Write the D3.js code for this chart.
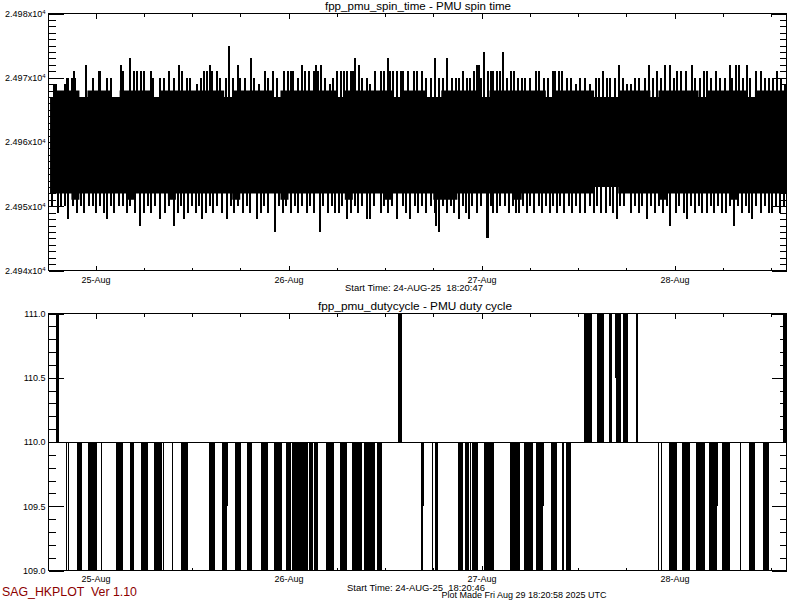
<!DOCTYPE html>
<html>
<head>
<meta charset="utf-8">
<script src="https://cdn.jsdelivr.net/npm/d3@7"></script>
<style>
body { margin: 0; background: #fff; }
text { font-family: "Liberation Sans", Arial, sans-serif; fill: #000; white-space: pre; }
</style>
</head>
<body>
<div id="chart"></div>
<script>
// all times are hours counted from 24-Aug-2025 00:00 UTC
var timeDomain = [18.155, 109.927];
var dataStart = 18.346;
var dayTicks = [24, 48, 72, 96];
var dayLabels = ["25-Aug", "26-Aug", "27-Aug", "28-Aug"];
var sixHourTicks = [24, 30, 36, 42, 48, 54, 60, 66, 72, 78, 84, 90, 96, 102, 108];

// PMU spin time: hourly band edges (first hour = 18)
var spinFirstHour = 18;
var spinHi = [24967,24968,24968,24968,24967,24968,24968,24968,24967,24968,
              24968,24968,24968,24967,24968,24968,24968,24968,24968,24968,
              24968,24968,24967,24968,24968,24968,24968,24968,24967,24968,
              24968,24968,24968,24968,24968,24968,24967,24968,24968,24968,
              24968,24968,24968,24967,24968,24968,24968,24967,24967,24968,
              24968,24968,24968,24968,24967,24968,24968,24968,24968,24968,
              24968,24968,24967,24968,24968,24968,24968,24968,24967,24967,
              24967,24968,24968,24968,24968,24967,24968,24968,24968,24968,
              24968,24967,24968,24968,24968,24968,24968,24967,24968,24968,
              24968,24968];
var spinLo = [24952,24952,24952,24951,24952,24952,24952,24952,24952,24952,
              24951,24952,24952,24952,24952,24951,24952,24952,24952,24952,
              24952,24952,24952,24951,24952,24952,24952,24952,24952,24951,
              24952,24952,24952,24952,24952,24952,24952,24951,24952,24952,
              24952,24952,24951,24952,24952,24952,24952,24952,24951,24951,
              24951,24952,24952,24952,24952,24952,24952,24952,24951,24952,
              24952,24952,24952,24952,24952,24952,24952,24952,24953,24953,
              24953,24952,24952,24952,24952,24952,24951,24952,24952,24952,
              24952,24952,24952,24952,24952,24951,24952,24952,24952,24952,
              24952,24952];

// spikes above the band: time, value
var spikeUpT = [18.82,19.03,20.15,20.48,20.64,21.10,21.30,21.51,22.76,23.63,24.46,24.62,25.46,25.87,27.11,27.40,
  28.35,28.76,29.22,29.60,29.97,30.84,31.18,32.08,32.46,33.08,33.70,34.36,34.78,35.32,35.81,36.56,37.06,37.43,
  37.89,38.21,38.51,39.13,39.54,40.17,40.66,41.16,41.70,42.03,42.65,43.36,43.77,44.27,45.05,45.51,46.10,46.51,
  47.38,47.88,48.25,48.62,49.12,49.70,50.11,50.61,51.11,51.36,51.73,51.98,52.60,53.22,53.59,54.09,54.59,54.84,
  55.33,55.71,56.08,56.33,56.74,57.20,57.70,58.19,58.81,59.44,59.93,60.39,60.68,61.05,61.55,61.93,62.30,62.80,
  63.55,64.04,64.54,65.16,65.66,66.16,66.66,67.15,67.74,68.27,68.77,69.14,69.64,70.14,70.63,71.01,71.38,71.67,
  71.88,72.29,72.75,73.12,73.49,73.87,74.24,74.65,75.11,75.61,75.98,76.48,76.98,77.47,78.09,78.72,79.09,79.71,
  80.33,80.83,81.20,81.58,82.07,82.57,83.07,83.69,84.31,84.93,85.55,86.18,86.55,87.09,87.55,88.04,88.54,89.08,
  89.54,90.04,90.53,91.03,91.53,92.27,92.77,93.27,93.85,94.26,94.88,95.38,95.88,96.34,96.75,97.37,98.21,98.61,
  99.23,99.61,100.10,100.60,101.10,101.60,102.22,102.84,103.21,103.59,103.96,104.46,105.04,105.45,106.08,106.70,
  107.20,107.69,108.19,108.78,109.19,109.68];
var spikeUpV = [24969,24969,24969,24970,24970,24970,24971,24970,24972,24970,24971,24971,24970,24970,24972,24971,
  24973,24971,24971,24971,24971,24971,24970,24970,24970,24971,24970,24972,24971,24970,24970,24969,24970,24971,
  24971,24972,24971,24971,24970,24970,24975,24970,24972,24970,24970,24973,24970,24969,24971,24970,24971,24970,
  24971,24971,24971,24971,24970,24972,24971,24971,24971,24972,24971,24972,24970,24969,24970,24971,24971,24971,
  24971,24971,24971,24973,24972,24970,24970,24969,24971,24971,24971,24973,24971,24971,24971,24971,24971,24971,
  24971,24971,24971,24970,24970,24973,24970,24970,24973,24970,24970,24970,24971,24970,24970,24971,24972,24972,
  24970,24974,24971,24971,24971,24971,24971,24974,24970,24971,24971,24970,24970,24970,24970,24971,24971,24970,
  24970,24971,24971,24971,24971,24970,24970,24969,24970,24970,24969,24970,24970,24971,24970,24970,24970,24972,
  24970,24969,24969,24970,24970,24970,24972,24970,24971,24970,24972,24972,24970,24971,24971,24971,24972,24970,
  24970,24971,24971,24970,24971,24970,24970,24972,24970,24972,24972,24970,24972,24970,24971,24971,
  24970,24970,24970,24971,24970,24969];

// spikes below the band: time, value
var spikeDnT = [18.65,19.28,19.65,20.15,20.61,21.14,21.64,22.14,22.63,23.13,23.63,24.12,24.62,25.00,25.46,25.87,
  26.36,26.86,27.36,27.86,28.35,28.85,29.51,29.97,30.47,30.96,31.46,32.08,32.58,33.08,33.74,34.20,34.57,34.98,
  35.44,35.94,36.44,36.81,37.27,37.68,38.18,38.67,39.17,39.67,40.29,40.79,41.28,41.78,42.28,42.78,43.27,44.11,
  44.52,45.01,45.51,46.30,46.76,47.26,47.75,48.25,48.75,49.24,49.74,50.24,50.73,51.23,51.89,52.35,52.85,53.35,
  53.84,54.25,54.71,55.30,55.71,56.21,56.70,57.20,57.82,58.19,58.69,59.44,59.93,60.43,60.93,61.52,62.30,62.67,
  63.17,63.67,64.16,64.66,65.16,65.66,66.16,66.40,66.69,67.15,67.65,68.15,68.64,69.18,69.64,70.01,70.42,70.88,
  71.38,71.88,72.71,72.83,73.12,73.49,73.95,74.36,74.86,75.36,75.86,76.23,76.64,77.10,77.60,78.09,78.59,79.09,
  79.55,79.96,80.46,80.95,81.41,81.82,82.32,82.82,83.31,83.81,84.31,84.93,85.43,85.93,86.42,86.92,87.42,87.92,
  88.41,88.87,89.28,89.78,90.53,91.03,91.53,92.02,92.61,93.02,93.52,94.01,94.51,95.01,95.50,96.13,96.62,97.12,
  97.58,97.99,98.49,98.99,99.48,100.07,100.48,100.89,101.35,101.85,102.35,102.84,103.38,103.84,104.34,104.84,
  105.21,105.67,106.08,106.70,107.20,107.69,108.15,108.56,109.06,109.56];
var spikeDnV = [24950,24949,24950,24950,24948,24950,24949,24950,24949,24950,24950,24949,24950,24949,24948,24950,
  24949,24950,24950,24949,24950,24949,24947,24949,24950,24949,24950,24948,24949,24950,24947,24949,24950,24948,
  24949,24950,24949,24950,24948,24949,24950,24949,24950,24949,24948,24950,24949,24950,24949,24950,24949,24948,
  24949,24950,24949,24946,24950,24949,24950,24949,24950,24949,24950,24949,24950,24949,24946,24950,24949,24950,
  24949,24949,24950,24948,24949,24950,24949,24950,24948,24948,24950,24949,24950,24949,24950,24948,24950,24949,
  24948,24950,24949,24950,24949,24950,24949,24947,24946,24950,24949,24950,24949,24948,24950,24949,24948,24950,
  24949,24950,24945,24945,24950,24949,24949,24950,24950,24949,24950,24949,24949,24950,24949,24950,24949,24950,
  24949,24950,24949,24950,24949,24950,24949,24950,24949,24950,24949,24949,24950,24949,24950,24949,24949,24950,
  24949,24948,24950,24950,24949,24950,24949,24950,24948,24950,24949,24950,24949,24950,24947,24949,24950,24949,
  24948,24950,24949,24950,24949,24949,24950,24949,24950,24949,24949,24950,24947,24950,24949,24950,
  24949,24948,24950,24949,24950,24949,24949,24950,24949,24950];

// PMU duty cycle: nominal level 110, bursts of toggling down to 109 and up to 111
var dutyLevel = 110;
var dutyLowBlocks = [[20.36,20.36],[20.61,20.61],[21.72,22.35],[23.09,24.21],[24.75,24.75],[26.61,27.44],
  [28.35,28.89],[29.72,30.55],[31.34,32.30],[32.49,32.49],[33.54,33.54],[34.69,35.53],[38.18,38.92],
  [39.79,40.42],[41.41,42.12],[42.86,43.49],[44.64,45.55],[46.26,47.29],[47.75,48.34],[48.46,50.45],
  [50.65,51.07],[51.23,51.69],[52.72,53.72],[54.47,55.30],[56.00,57.16],[57.45,58.82],[59.07,59.73],
  [64.54,64.75],[65.87,65.87],[66.28,66.62],[69.18,69.80],[70.01,70.51],[70.69,70.69],[70.88,70.88],
  [71.04,71.66],[72.34,73.65],[75.61,76.85],[77.35,78.43],[78.84,79.71],[80.70,81.41],[82.03,82.03],
  [82.23,82.23],[82.57,83.16],[94.07,94.07],[94.38,94.38],[95.41,96.33],[97.03,97.99],[98.74,99.86],
  [100.35,101.30],[101.93,102.96],[104.21,104.21],[105.32,106.08],[107.03,107.81]];
var dutyHighBlocks = [[19.15,19.52],[61.72,62.14],[84.81,85.77],[86.46,87.30],[87.92,88.25],[88.79,89.37],
  [89.70,90.24],[91.27,91.48],[109.59,109.93]];
// short bursts that only reached half way: start, end, from, to
var dutyPartial = [[40.42,40.52,110,109.5],[64.75,64.95,110,109.5],[79.71,79.83,110,109.5],
  [101.30,101.51,110,109.5],[88.66,88.79,111,110.5]];

var spinTickValues = [24940, 24950, 24960, 24970, 24980];
var spinTickLabels = ["2.494", "2.495", "2.496", "2.497", "2.498"];
var dutyTickValues = [109, 109.5, 110, 110.5, 111];
var dutyTickLabels = ["109.0", "109.5", "110.0", "110.5", "111.0"];

var plotLeft = 48.5, plotRight = 786.5;
var spinTop = 13.5, spinBottom = 270.5;
var dutyTop = 313.5, dutyBottom = 570.5;

var svg = d3.select("#chart")
    .append("svg")
        .attr("width", 800)
        .attr("height", 600)
        .style("display", "block");

svg.append("rect").attr("width", 800).attr("height", 600).attr("fill", "#fff");

var x = d3.scaleLinear().domain(timeDomain).range([plotLeft, plotRight]);
var ySpin = d3.scaleLinear().domain([24940, 24980]).range([spinBottom, spinTop]);
var yDuty = d3.scaleLinear().domain([109, 111]).range([dutyBottom, dutyTop]);

var defs = svg.append("defs");
defs.append("clipPath").attr("id", "clip-spin")
    .append("rect")
        .attr("x", x(dataStart)).attr("y", spinTop)
        .attr("width", plotRight - x(dataStart)).attr("height", spinBottom - spinTop);
defs.append("clipPath").attr("id", "clip-duty")
    .append("rect")
        .attr("x", plotLeft).attr("y", dutyTop)
        .attr("width", plotRight - plotLeft + 1).attr("height", dutyBottom - dutyTop);

// ---- spin time panel ----
var spinRows = spinHi.map(function(v, i){ return {h: spinFirstHour + i, hi: v, lo: spinLo[i]}; });
spinRows.push({h: spinFirstHour + spinHi.length, hi: spinHi[spinHi.length-1], lo: spinLo[spinLo.length-1]});

var spinG = svg.append("g").attr("clip-path", "url(#clip-spin)");

spinG.append("path")
    .datum(spinRows)
    .attr("fill", "#000")
    .attr("d", d3.area()
        .curve(d3.curveStepAfter)
        .x(function(d){ return x(d.h); })
        .y0(function(d){ return ySpin(d.lo); })
        .y1(function(d){ return ySpin(d.hi); }));

spinG.selectAll("line.up")
    .data(spikeUpT)
    .enter().append("line")
        .attr("class", "up")
        .attr("x1", function(d){ return x(d); })
        .attr("x2", function(d){ return x(d); })
        .attr("y1", ySpin(24960))
        .attr("y2", function(d, i){ return ySpin(spikeUpV[i]); })
        .attr("stroke", "#000")
        .attr("stroke-width", 2)
        .attr("shape-rendering", "crispEdges");

spinG.selectAll("line.dn")
    .data(spikeDnT)
    .enter().append("line")
        .attr("class", "dn")
        .attr("x1", function(d){ return x(d); })
        .attr("x2", function(d){ return x(d); })
        .attr("y1", ySpin(24960))
        .attr("y2", function(d, i){ return ySpin(spikeDnV[i]); })
        .attr("stroke", "#000")
        .attr("stroke-width", 2)
        .attr("shape-rendering", "crispEdges");

// ---- duty cycle panel ----
var dutyG = svg.append("g").attr("clip-path", "url(#clip-duty)");

dutyG.append("line")
    .attr("x1", x(dataStart)).attr("x2", x(timeDomain[1]))
    .attr("y1", yDuty(dutyLevel)).attr("y2", yDuty(dutyLevel))
    .attr("stroke", "#000")
    .attr("shape-rendering", "crispEdges");

function blockRect(sel, y0, y1){
    sel.attr("x", function(d){ return x(d[0]) - 0.5; })
       .attr("width", function(d){ return Math.max(1, x(d[1]) - x(d[0])); })
       .attr("y", Math.min(yDuty(y0), yDuty(y1)))
       .attr("height", Math.abs(yDuty(y1) - yDuty(y0)))
       .attr("fill", "#000")
       .attr("shape-rendering", "crispEdges");
}

dutyG.selectAll("rect.low").data(dutyLowBlocks).enter().append("rect")
    .attr("class", "low").call(blockRect, dutyLevel, 109);
dutyG.selectAll("rect.high").data(dutyHighBlocks).enter().append("rect")
    .attr("class", "high").call(blockRect, dutyLevel, 111);
dutyG.selectAll("rect.part").data(dutyPartial).enter().append("rect")
    .attr("class", "part")
    .attr("x", function(d){ return x(d[0]) - 0.5; })
    .attr("width", function(d){ return Math.max(1, x(d[1]) - x(d[0])); })
    .attr("y", function(d){ return Math.min(yDuty(d[2]), yDuty(d[3])); })
    .attr("height", function(d){ return Math.abs(yDuty(d[3]) - yDuty(d[2])); })
    .attr("fill", "#000")
    .attr("shape-rendering", "crispEdges");

// ---- frames and ticks (IDL style, ticks inside on all four sides) ----
function styleAxis(g){
    g.select(".domain").remove();
    g.selectAll("line").attr("stroke", "#000").attr("shape-rendering", "crispEdges");
    g.attr("font-size", 9).attr("font-family", "Liberation Sans, Arial, sans-serif");
}

function drawFrame(y, top, bottom, yMajor, yMinor, yLabels, sup, xPad){
    svg.append("rect")
        .attr("x", plotLeft).attr("y", top)
        .attr("width", plotRight - plotLeft).attr("height", bottom - top)
        .attr("fill", "none").attr("stroke", "#000")
        .attr("shape-rendering", "crispEdges");

    svg.append("g").attr("transform", "translate(" + plotLeft + ",0)")
        .call(d3.axisLeft(y).tickValues(yMinor).tickSize(-7).tickFormat(""))
        .call(styleAxis);
    var left = svg.append("g").attr("transform", "translate(" + plotLeft + ",0)")
        .call(d3.axisLeft(y).tickValues(yMajor).tickSize(-15).tickPadding(3)
            .tickFormat(function(d, i){ return yLabels[i] + (sup ? "x10" : ""); }))
        .call(styleAxis);
    if (sup) {
        left.selectAll("text").append("tspan")
            .attr("dy", "-0.45em").attr("font-size", 6).text("4");
    }

    svg.append("g").attr("transform", "translate(" + plotRight + ",0)")
        .call(d3.axisRight(y).tickValues(yMinor).tickSize(-7).tickFormat(""))
        .call(styleAxis);
    svg.append("g").attr("transform", "translate(" + plotRight + ",0)")
        .call(d3.axisRight(y).tickValues(yMajor).tickSize(-15).tickFormat(""))
        .call(styleAxis);

    svg.append("g").attr("transform", "translate(0," + bottom + ")")
        .call(d3.axisBottom(x).tickValues(sixHourTicks).tickSize(-3).tickFormat(""))
        .call(styleAxis);
    svg.append("g").attr("transform", "translate(0," + bottom + ")")
        .call(d3.axisBottom(x).tickValues(dayTicks).tickSize(-5).tickPadding(xPad)
            .tickFormat(function(d, i){ return dayLabels[i]; }))
        .call(styleAxis);

    svg.append("g").attr("transform", "translate(0," + top + ")")
        .call(d3.axisTop(x).tickValues(sixHourTicks).tickSize(-3).tickFormat(""))
        .call(styleAxis);
    svg.append("g").attr("transform", "translate(0," + top + ")")
        .call(d3.axisTop(x).tickValues(dayTicks).tickSize(-5).tickFormat(""))
        .call(styleAxis);
}

drawFrame(ySpin, spinTop, spinBottom, spinTickValues, d3.range(24940, 24981, 1), spinTickLabels, true, 6);
drawFrame(yDuty, dutyTop, dutyBottom, dutyTickValues, d3.range(109, 111.01, 0.1), dutyTickLabels, false, 5);

// ---- titles and footer texts ----
function label(txt, xPos, yPos, len, size, color){
    svg.append("text")
        .attr("x", xPos).attr("y", yPos)
        .attr("text-anchor", "middle")
        .attr("font-size", size)
        .attr("xml:space", "preserve")
        .attr("textLength", len)
        .attr("lengthAdjust", "spacingAndGlyphs")
        .style("fill", color || "#000")
        .text(txt);
}

label("fpp_pmu_spin_time - PMU spin time", 418, 9.5, 186, 10);
label("Start Time: 24-AUG-25  18:20:47", 414, 290.5, 138, 9);
label("fpp_pmu_dutycycle - PMU duty cycle", 415, 309.5, 194, 10);
label("Start Time: 24-AUG-25  18:20:46", 416, 591, 138, 9);
label("Plot Made Fri Aug 29 18:20:58 2025 UTC", 524, 598, 165, 9);
label("SAG_HKPLOT  Ver 1.10", 69.5, 596, 135, 12, "#8c0000");
</script>
</body>
</html>
